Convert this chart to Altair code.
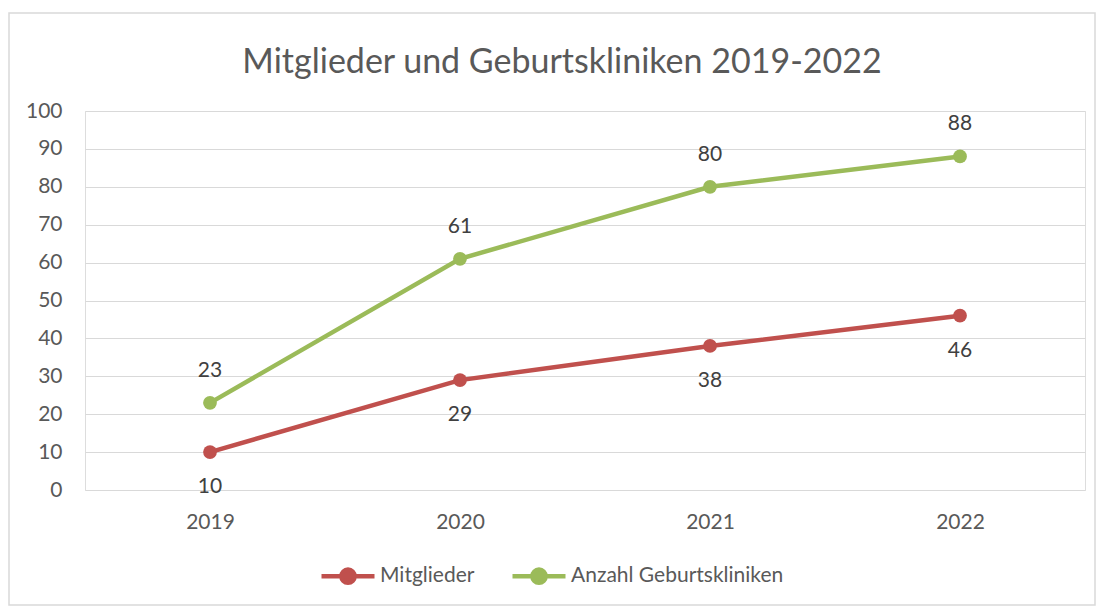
import altair as alt
import pandas as pd

years = ["2019", "2020", "2021", "2022"]
mitglieder = [10, 29, 38, 46]
kliniken = [23, 61, 80, 88]
series_names = ["Mitglieder", "Anzahl Geburtskliniken"]
colors = ["#C0504D", "#9BBB59"]
y_ticks = [0, 10, 20, 30, 40, 50, 60, 70, 80, 90, 100]

rows = []
for y, v in zip(years, mitglieder):
    rows.append({"Jahr": y, "Wert": v, "Serie": series_names[0]})
for y, v in zip(years, kliniken):
    rows.append({"Jahr": y, "Wert": v, "Serie": series_names[1]})
df = pd.DataFrame(rows)

FONT = "Lato"

color_scale = alt.Scale(domain=series_names, range=colors)
x_enc = alt.X("Jahr:N", scale=alt.Scale(paddingInner=0, paddingOuter=0.5),
              axis=alt.Axis(title=None, labelAngle=0, ticks=False, domain=False,
                            labelPadding=21, labelFontSize=21, labelColor="#595959",
                            labelFont=FONT))
y_enc = alt.Y("Wert:Q", scale=alt.Scale(domain=[0, 100], nice=False),
              axis=alt.Axis(title=None, values=y_ticks, ticks=False,
                            domain=False, labelPadding=23, labelFontSize=21,
                            labelColor="#595959", labelFont=FONT, labelOverlap=False,
                            gridColor="#D9D9D9", gridWidth=1))
c_enc = alt.Color("Serie:N", scale=color_scale, sort=series_names,
                  legend=alt.Legend(title=None, orient="none", direction="horizontal",
                                    legendX=234, legendY=436,
                                    symbolType="M -1 0 L 1 0 M 0.25 0 A 0.25 0.25 0 1 1 -0.25 0 A 0.25 0.25 0 1 1 0.25 0",
                                    symbolSize=2809, symbolStrokeWidth=4.5,
                                    labelFontSize=21, labelColor="#595959", labelLimit=0,
                                    labelFont=FONT, columnPadding=28, labelOffset=3))

base = alt.Chart(df).encode(x=x_enc, y=y_enc)

border = alt.Chart(pd.DataFrame({"a": [0]})).mark_rect(
    fillOpacity=0, stroke="#D9D9D9", strokeWidth=1.5
).encode(x=alt.value(-76), x2=alt.value(1010), y=alt.value(-98), y2=alt.value(494))

lines = base.mark_line(strokeWidth=4.5).encode(color=c_enc)
points = base.mark_point(filled=True, size=190, opacity=1).encode(color=c_enc)
labels_red = base.transform_filter(alt.datum.Serie == series_names[0]).mark_text(
    dy=35, fontSize=21, color="#404040", font=FONT
).encode(text="Wert:Q")
labels_green = base.transform_filter(alt.datum.Serie == series_names[1]).mark_text(
    dy=-32, fontSize=21, color="#404040", font=FONT
).encode(text="Wert:Q")

chart = alt.layer(border, lines, points, labels_red, labels_green).properties(
    width=1000, height=379,
    autosize=alt.AutoSizeParams(type="none"),
    padding={"left": 85, "top": 111, "right": 18, "bottom": 118},
    title=alt.TitleParams("Mitglieder und Geburtskliniken 2019-2022", fontSize=34,
                          font=FONT, fontWeight="normal", color="#595959",
                          anchor="middle", dx=-23, offset=-68),
).configure_view(stroke=None).configure(background="white")

chart.save("out.html", embed_options={"renderer": "svg", "actions": False})
